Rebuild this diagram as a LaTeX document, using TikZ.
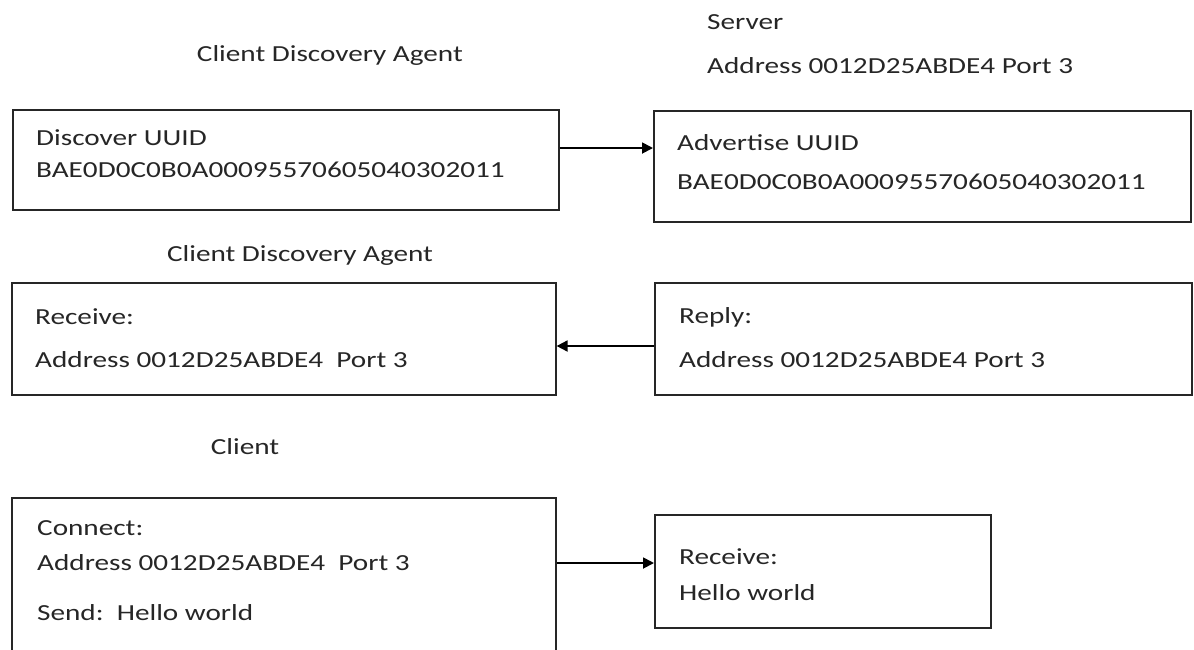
\documentclass[tikz,border=0pt]{standalone}
\usepackage{fontspec}
\setmainfont[FakeStretch=1.27]{Carlito}
\usetikzlibrary{arrows.meta}
\begin{document}
\begin{tikzpicture}[x=1pt,y=-1pt,
  boxn/.style={draw=black!85, line width=1.6pt, inner sep=0pt, anchor=north west},
  txt/.style={anchor=west, inner sep=0pt, font=\fontsize{23}{27}\selectfont, text=black!85},
  conn/.style={line width=1.8pt, -{Triangle[length=11pt,width=11pt]}}]
\useasboundingbox (0,0) rectangle (1194,649);
\clip (0,0) rectangle (1194,649);
% boxes
\node[boxn, minimum width=546pt, minimum height=100pt] (b1) at (12,109) {};
\node[boxn, minimum width=537pt, minimum height=111pt] (b2) at (653,110) {};
\node[boxn, minimum width=544pt, minimum height=112pt] (b3) at (11,282) {};
\node[boxn, minimum width=537pt, minimum height=112pt] (b4) at (654,282) {};
\node[boxn, minimum width=544pt, minimum height=170pt] (b5) at (11,497) {};
\node[boxn, minimum width=336pt, minimum height=113pt] (b6) at (654,514) {};
% titles
\node[txt, anchor=east] (t1) at (463,55) {Client Discovery Agent};
\node[txt] (t2) at (707,22) {Server};
\node[txt] (t3) at (707,66) {Address 0012D25ABDE4 Port 3};
\node[txt, anchor=center] (t4) at (300,255) {Client Discovery Agent};
\node[txt, anchor=center] (t5) at (245,447) {Client};
% box texts
\node[txt] (a1) at (36,138) {Discover UUID};
\node[txt] (a2) at (36,170) {BAE0D0C0B0A00095570605040302011};
\node[txt] (c1) at (677,143) {Advertise UUID};
\node[txt] (c2) at (677,182) {BAE0D0C0B0A00095570605040302011};
\node[txt] (d1) at (35,317) {Receive:};
\node[txt] (d2) at (35,360) {Address 0012D25ABDE4\ \ Port 3};
\node[txt] (e1) at (679,317) {Reply:};
\node[txt] (e2) at (679,360) {Address 0012D25ABDE4 Port 3};
\node[txt] (f1) at (37,528) {Connect:};
\node[txt] (f2) at (37,563) {Address 0012D25ABDE4\ \ Port 3};
\node[txt] (f3) at (37,613) {Send:\ \ Hello world};
\node[txt] (g1) at (679,557) {Receive:};
\node[txt] (g2) at (679,593) {Hello world};
% connectors
\draw[conn] (b1.east |- 0,148) -- (b2.west |- 0,148);
\draw[conn] (b4.west |- 0,346) -- (b3.east |- 0,346);
\draw[conn] (b5.east |- 0,563) -- (b6.west |- 0,563);
\end{tikzpicture}
\end{document}
